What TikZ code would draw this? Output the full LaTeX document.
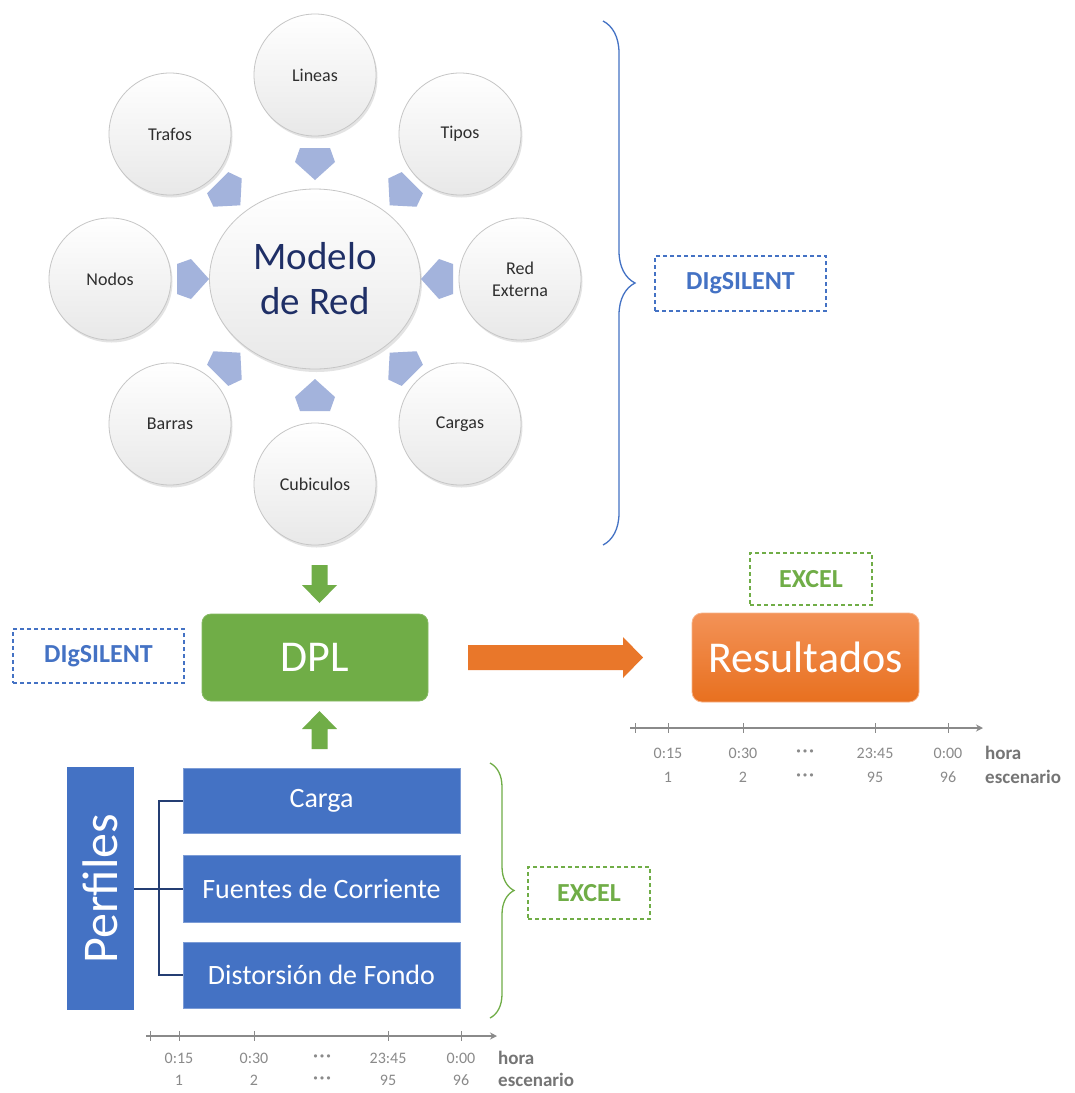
\documentclass[tikz,border=0pt]{standalone}
\usepackage{fontspec}
\setmainfont{Carlito}
\newfontfamily\dejavu{DejaVu Sans}
\usetikzlibrary{shapes.geometric,decorations.pathreplacing,shadows,arrows.meta,calc}

\definecolor{obblue}{HTML}{4472C4}
\definecolor{obgreen}{HTML}{70AD47}
\definecolor{oborange}{HTML}{E8701F}
\definecolor{oborangetop}{HTML}{F39257}
\definecolor{navy}{HTML}{1F2F66}
\definecolor{connnavy}{HTML}{243E73}
\definecolor{ringarrowcol}{HTML}{A3B3DC}
\definecolor{labgray}{HTML}{2E2E2E}
\definecolor{tlgray}{HTML}{8A8A8A}

\tikzset{
  ring/.style={circle, minimum size=122pt, inner sep=0pt, draw=gray!45, line width=0.8pt,
    top color=white, bottom color=gray!18, font=\fontsize{18}{22}\selectfont, text=labgray, align=center,
    drop shadow={shadow xshift=1.5pt, shadow yshift=-2.5pt, opacity=0.22}},
  centerring/.style={ellipse, minimum width=211pt, minimum height=180pt, inner sep=0pt, draw=gray!45, line width=0.8pt,
    top color=white, bottom color=gray!18, font=\fontsize{39}{45}\selectfont, text=navy, align=center,
    drop shadow={shadow xshift=1.5pt, shadow yshift=-3pt, opacity=0.22}},
  ringarr/.pic={\fill[ringarrowcol] (-16,-15) -- (-2,-20) -- (16,0) -- (-2,20) -- (-16,15) -- cycle;},
  greenarr/.pic={\fill[obgreen] (-8,0) -- (8,0) -- (8,20) -- (17.5,20) -- (0,38) -- (-17.5,20) -- (-8,20) -- cycle;},
  dashbox/.style={draw, dash pattern=on 4pt off 3pt, line width=1.1pt, inner sep=0pt,
    font=\bfseries\fontsize{26}{28}\selectfont},
  bluebox/.style={fill=obblue, draw=obblue!70!white, line width=0.6pt, text=white, minimum width=277pt, inner sep=0pt,
    font=\fontsize{28}{32}\selectfont},
  tltick/.style={tlgray, line width=1pt},
  tlaxis/.style={tlgray, line width=1.3pt, -{Stealth[length=7pt,width=7pt]}},
  tllab/.style={text=tlgray, inner sep=0pt, font=\fontsize{16}{18}\selectfont},
  tlword/.style={text=tlgray!85!black, inner sep=0pt, anchor=west, font=\bfseries\fontsize{19}{21}\selectfont},
  tldots/.style={text=tlgray, inner sep=0pt, font=\dejavu\fontsize{11}{12}\selectfont},
  bracebl/.style={obblue, line width=1.3pt, decorate},
  conn/.style={connnavy, line width=2pt}
}

\begin{document}
\begin{tikzpicture}[x=1pt,y=-1pt]
\useasboundingbox (0,0) rectangle (1075,1093);
\fill[white] (0,0) rectangle (1075,1093);

% radial diagram
\node[centerring] (modelo) at (315,279) {Modelo\\de Red};
\node[ring] (lineas) at (315,75) {Lineas};
\node[ring] (tipos) at (460,134) {Tipos};
\node[ring] (redext) at (520,279) {Red\\Externa};
\node[ring] (cargas) at (460,424) {Cargas};
\node[ring] (cubic) at (315,484) {Cubiculos};
\node[ring] (barras) at (170,424) {Barras};
\node[ring] (nodos) at (110,279) {Nodos};
\node[ring] (trafos) at (170,134) {Trafos};

\pic[rotate=-90] at (315,164) {ringarr};
\pic[rotate=-135] at (401,194) {ringarr};
\pic[rotate=180] at (437,279) {ringarr};
\pic[rotate=135] at (401,364) {ringarr};
\pic[rotate=90] at (315,395) {ringarr};
\pic[rotate=45] at (229,364) {ringarr};
\pic[rotate=0] at (193,279) {ringarr};
\pic[rotate=-45] at (229,194) {ringarr};

% blue brace and label
\draw[bracebl, decoration={brace, amplitude=32pt}] (603,21) -- (603,545);
\node[dashbox, draw=obblue, text=obblue, minimum width=171pt, minimum height=55pt] (dig1) at (740.5,283.5) {DIgSILENT};

% DPL block
\node[fill=obgreen, draw=obgreen!85!white, line width=0.8pt, rounded corners=9pt, minimum width=226pt, minimum height=87pt,
  inner sep=0pt, text=white, font=\fontsize{44}{48}\selectfont] (dpl) at (315,657.5) {DPL};
\pic at (319.5,565) {greenarr};
\pic[rotate=180] at (319.5,749) {greenarr};
\node[dashbox, draw=obblue, text=obblue, minimum width=171pt, minimum height=54pt] (dig2) at (98.5,656) {DIgSILENT};

% orange arrow and results
\fill[oborange!95!white] (468,645) -- (623,645) -- (623,637) -- (643,657.5) -- (623,678) -- (623,670) -- (468,670) -- cycle;
\node[rounded corners=10pt, top color=oborangetop, bottom color=oborange, draw=oborangetop!70!white, line width=0.8pt,
  minimum width=227pt, minimum height=89pt, inner sep=0pt, text=white, font=\fontsize{44}{48}\selectfont] (res) at (805.5,657.5) {Resultados};
\node[dashbox, draw=obgreen, text=obgreen, minimum width=122pt, minimum height=52pt] (exc1) at (811,579) {EXCEL};

% top-right timeline
\coordinate (tlAs) at (630,728);
\coordinate (tlAe) at (983,728);
\draw[tlaxis] (tlAs) -- (tlAe);
\foreach \x in {635,668,743,875,948} \draw[tltick] (\x,723) -- (\x,733);
\node[tllab] at (668,753) {0:15};
\node[tllab] at (743,753) {0:30};
\node[tldots] at (805,753) {•••};
\node[tllab] at (875,753) {23:45};
\node[tllab] at (948,753) {0:00};
\node[tlword] at (985,753) {hora};
\node[tllab] at (668,777) {1};
\node[tllab] at (743,777) {2};
\node[tldots] at (805,777) {•••};
\node[tllab] at (875,777) {95};
\node[tllab] at (948,777) {96};
\node[tlword] at (985,777) {escenario};

% profiles
\node[fill=obblue, minimum width=67pt, minimum height=243pt, inner sep=0pt] (perf) at (100.5,888.5) {};
\node[rotate=90, text=white, font=\fontsize{50}{54}\selectfont, inner sep=0pt] (perflab) at (perf.center) {Perfiles};
\node[bluebox, minimum height=65pt] (carga) at (321.5,800.5) {Carga};
\node[bluebox, minimum height=67pt] (fuentes) at (321.5,888.5) {Fuentes de Corriente};
\node[bluebox, minimum height=66pt] (dist) at (321.5,975) {Distorsión de Fondo};
\draw[conn] (perf.east) -- (fuentes.west);
\draw[conn] (carga.west) -- ++(-24,0) |- (dist.west);

\draw[obgreen, line width=1.3pt, decorate, decoration={brace, amplitude=24pt}] (490,763) -- (490,1018);
\node[dashbox, draw=obgreen, text=obgreen, minimum width=122pt, minimum height=52pt] (exc2) at (589,893) {EXCEL};

% bottom timeline
\coordinate (tlBs) at (146,1036);
\coordinate (tlBe) at (497,1036);
\draw[tlaxis] (tlBs) -- (tlBe);
\foreach \x in {150,179,254,388,461} \draw[tltick] (\x,1031) -- (\x,1041);
\node[tllab] at (179,1058) {0:15};
\node[tllab] at (254,1058) {0:30};
\node[tldots] at (322,1058) {•••};
\node[tllab] at (388,1058) {23:45};
\node[tllab] at (461,1058) {0:00};
\node[tlword] at (498,1058) {hora};
\node[tllab] at (179,1080) {1};
\node[tllab] at (254,1080) {2};
\node[tldots] at (322,1080) {•••};
\node[tllab] at (388,1080) {95};
\node[tllab] at (461,1080) {96};
\node[tlword] at (498,1080) {escenario};
\end{tikzpicture}
\end{document}
